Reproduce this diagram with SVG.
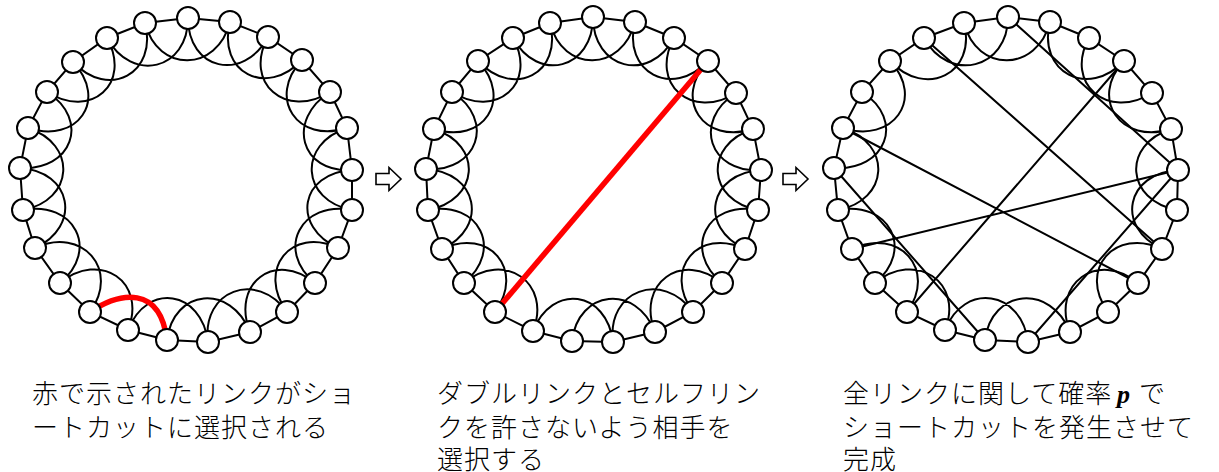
<svg xmlns="http://www.w3.org/2000/svg" width="1219" height="472" viewBox="0 0 1219 472">
<style>
.e{fill:none;stroke:#000;stroke-width:2}
.r{fill:none;stroke:#f00;stroke-width:5.5;stroke-linecap:butt}
.n{fill:#fff;stroke:#000;stroke-width:2}
.a{fill:#fff;stroke:#000;stroke-width:1.6;stroke-linejoin:miter}
.t{font-family:"Noto Sans CJK JP","Liberation Serif",sans-serif;font-size:26px;font-weight:300;letter-spacing:1px;fill:#000}
.p{font-family:"Liberation Serif",serif;font-style:italic;font-weight:bold;letter-spacing:0}
</style>
<defs>
<path id="arrow" class="a" d="M0,-5.5 H13 V-11.5 L25,0 L13,11.5 V5.5 H0 Z"/>
</defs>
<g id="connectors">
<!-- ring 1 -->
<path class="e" d="M188,18 L230,22 L268,37 L302,60 L330,92 L347,128 L352,170 L352,210 L338,248 L315,283 L287,312 L250,332 L208,342 L167,340 L128,330 L90,312 L60,283 L35,248 L23,210 L20,168 L28,128 L47,92 L73,62 L107,38 L145,23 Z"/>
<path class="e" d="M188,18 C188,70 242.9,82.6 268,37
M230,22 C217.1,72.4 266.4,97.9 302,60
M268,37 C242.9,82.6 286.1,119.9 330,92
M302,60 C266.4,97.9 297.5,144.1 347,128
M330,92 C286.1,119.9 300.1,173.3 352,170
M347,128 C297.5,144.1 300.9,200.3 352,210
M352,170 C300.1,173.3 290.9,225.9 338,248
M352,210 C300.9,200.3 274.9,249.9 315,283
M338,248 C290.9,225.9 256.4,269.9 287,312
M315,283 C274.9,249.9 230.9,283.7 250,332
M287,312 C256.4,269.9 201.5,290.4 208,342
M250,332 C230.9,283.7 173.5,288.4 167,340
M208,342 C201.5,290.4 147.1,281.7 128,330
M128,330 C147.1,281.7 100.1,249.9 60,283
M90,312 C120.6,269.9 82.1,225.9 35,248
M60,283 C100.1,249.9 74.1,200.3 23,210
M35,248 C82.1,225.9 71.9,171.3 20,168
M23,210 C74.1,200.3 77.5,144.1 28,128
M20,168 C71.9,171.3 90.9,119.9 47,92
M28,128 C77.5,144.1 108.6,99.9 73,62
M47,92 C90.9,119.9 132.1,83.6 107,38
M73,62 C108.6,99.9 157.9,73.4 145,23
M107,38 C132.1,83.6 188,70 188,18
M145,23 C157.9,73.4 217.1,72.4 230,22"/>
<path class="r" d="M90,312 C120,292 160,285 167,340"/>
<!-- ring 2 -->
<path class="e" d="M593,17 L635,22 L674,38 L708,61 L736,93 L753,129 L761,170 L758,210 L745,249 L722,283 L693,312 L655,332 L613,342 L572,341 L533,331 L495,312 L464,283 L442,249 L428,210 L426,169 L434,129 L452,92 L478,61 L513,38 L550,23 Z"/>
<path class="e" d="M593,17 C593,69 648.9,83.6 674,38
M635,22 C622.1,72.4 672.4,98.9 708,61
M674,38 C648.9,83.6 692.1,120.9 736,93
M708,61 C672.4,98.9 703.5,145.1 753,129
M736,93 C692.1,120.9 709.1,173.3 761,170
M753,129 C703.5,145.1 706.9,200.3 758,210
M761,170 C709.1,173.3 697.9,226.9 745,249
M758,210 C706.9,200.3 681.9,249.9 722,283
M745,249 C697.9,226.9 662.4,269.9 693,312
M722,283 C681.9,249.9 635.9,283.7 655,332
M693,312 C662.4,269.9 606.5,290.4 613,342
M655,332 C635.9,283.7 578.5,289.4 572,341
M613,342 C606.5,290.4 552.1,282.7 533,331
M533,331 C552.1,282.7 504.1,249.9 464,283
M495,312 C525.6,269.9 489.1,226.9 442,249
M464,283 C504.1,249.9 479.1,200.3 428,210
M442,249 C489.1,226.9 477.9,172.3 426,169
M428,210 C479.1,200.3 483.5,145.1 434,129
M426,169 C477.9,172.3 495.9,119.9 452,92
M434,129 C483.5,145.1 513.6,98.9 478,61
M452,92 C495.9,119.9 538.1,83.6 513,38
M478,61 C513.6,98.9 562.9,73.4 550,23
M513,38 C538.1,83.6 593,69 593,17
M550,23 C562.9,73.4 622.1,72.4 635,22"/>
<path class="r" d="M495,312 L708,61"/>
<!-- ring 3 -->
<path class="e" d="M1008,17 L1050,22 L1089,38 L1124,61 L1152,93 L1171,129 L1178,170 L1177,210 L1162,249 L1138,283 L1108,312 L1070,332 L1028,342 L985,340 L945,330 L907,312 L875,283 L852,249 L838,210 L834,168 L843,128 L862,92 L890,61 L924,38 L964,23 Z"/>
<path class="e" d="M1050,22 C1037.1,72.4 1088.4,98.9 1124,61
M1089,38 C1063.9,83.6 1108.1,120.9 1152,93
M1124,61 C1088.4,98.9 1121.5,145.1 1171,129
M1171,129 C1121.5,145.1 1125.9,200.3 1177,210
M1178,170 C1126.1,173.3 1114.9,226.9 1162,249
M1162,249 C1114.9,226.9 1077.4,269.9 1108,312
M1138,283 C1097.9,249.9 1050.9,283.7 1070,332
M1070,332 C1050.9,283.7 991.5,288.4 985,340
M1028,342 C1021.5,290.4 964.1,281.7 945,330
M945,330 C964.1,281.7 915.1,249.9 875,283
M907,312 C937.6,269.9 899.1,226.9 852,249
M875,283 C915.1,249.9 889.1,200.3 838,210
M838,210 C889.1,200.3 892.5,144.1 843,128
M834,168 C885.9,171.3 905.9,119.9 862,92
M843,128 C892.5,144.1 925.6,98.9 890,61
M890,61 C925.6,98.9 976.9,73.4 964,23
M924,38 C949.1,83.6 1008,69 1008,17
M964,23 C976.9,73.4 1037.1,72.4 1050,22"/>
<path class="e" d="M924,38 L1162,249 M1008,17 L1178,170 M1124,61 L907,312 M843,128 L1138,283 M834,168 L985,340 M852,249 L1178,170 M1028,342 L1178,170"/>
</g>
<g id="ring1-nodes">
<g id="r1n0"><circle class="n" cx="188" cy="18" r="11"/></g>
<g id="r1n1"><circle class="n" cx="230" cy="22" r="11"/></g>
<g id="r1n2"><circle class="n" cx="268" cy="37" r="11"/></g>
<g id="r1n3"><circle class="n" cx="302" cy="60" r="11"/></g>
<g id="r1n4"><circle class="n" cx="330" cy="92" r="11"/></g>
<g id="r1n5"><circle class="n" cx="347" cy="128" r="11"/></g>
<g id="r1n6"><circle class="n" cx="352" cy="170" r="11"/></g>
<g id="r1n7"><circle class="n" cx="352" cy="210" r="11"/></g>
<g id="r1n8"><circle class="n" cx="338" cy="248" r="11"/></g>
<g id="r1n9"><circle class="n" cx="315" cy="283" r="11"/></g>
<g id="r1n10"><circle class="n" cx="287" cy="312" r="11"/></g>
<g id="r1n11"><circle class="n" cx="250" cy="332" r="11"/></g>
<g id="r1n12"><circle class="n" cx="208" cy="342" r="11"/></g>
<g id="r1n13"><circle class="n" cx="167" cy="340" r="11"/></g>
<g id="r1n14"><circle class="n" cx="128" cy="330" r="11"/></g>
<g id="r1n15"><circle class="n" cx="90" cy="312" r="11"/></g>
<g id="r1n16"><circle class="n" cx="60" cy="283" r="11"/></g>
<g id="r1n17"><circle class="n" cx="35" cy="248" r="11"/></g>
<g id="r1n18"><circle class="n" cx="23" cy="210" r="11"/></g>
<g id="r1n19"><circle class="n" cx="20" cy="168" r="11"/></g>
<g id="r1n20"><circle class="n" cx="28" cy="128" r="11"/></g>
<g id="r1n21"><circle class="n" cx="47" cy="92" r="11"/></g>
<g id="r1n22"><circle class="n" cx="73" cy="62" r="11"/></g>
<g id="r1n23"><circle class="n" cx="107" cy="38" r="11"/></g>
<g id="r1n24"><circle class="n" cx="145" cy="23" r="11"/></g>
</g>
<g id="ring2-nodes">
<g id="r2n0"><circle class="n" cx="593" cy="17" r="11"/></g>
<g id="r2n1"><circle class="n" cx="635" cy="22" r="11"/></g>
<g id="r2n2"><circle class="n" cx="674" cy="38" r="11"/></g>
<g id="r2n3"><circle class="n" cx="708" cy="61" r="11"/></g>
<g id="r2n4"><circle class="n" cx="736" cy="93" r="11"/></g>
<g id="r2n5"><circle class="n" cx="753" cy="129" r="11"/></g>
<g id="r2n6"><circle class="n" cx="761" cy="170" r="11"/></g>
<g id="r2n7"><circle class="n" cx="758" cy="210" r="11"/></g>
<g id="r2n8"><circle class="n" cx="745" cy="249" r="11"/></g>
<g id="r2n9"><circle class="n" cx="722" cy="283" r="11"/></g>
<g id="r2n10"><circle class="n" cx="693" cy="312" r="11"/></g>
<g id="r2n11"><circle class="n" cx="655" cy="332" r="11"/></g>
<g id="r2n12"><circle class="n" cx="613" cy="342" r="11"/></g>
<g id="r2n13"><circle class="n" cx="572" cy="341" r="11"/></g>
<g id="r2n14"><circle class="n" cx="533" cy="331" r="11"/></g>
<g id="r2n15"><circle class="n" cx="495" cy="312" r="11"/></g>
<g id="r2n16"><circle class="n" cx="464" cy="283" r="11"/></g>
<g id="r2n17"><circle class="n" cx="442" cy="249" r="11"/></g>
<g id="r2n18"><circle class="n" cx="428" cy="210" r="11"/></g>
<g id="r2n19"><circle class="n" cx="426" cy="169" r="11"/></g>
<g id="r2n20"><circle class="n" cx="434" cy="129" r="11"/></g>
<g id="r2n21"><circle class="n" cx="452" cy="92" r="11"/></g>
<g id="r2n22"><circle class="n" cx="478" cy="61" r="11"/></g>
<g id="r2n23"><circle class="n" cx="513" cy="38" r="11"/></g>
<g id="r2n24"><circle class="n" cx="550" cy="23" r="11"/></g>
</g>
<g id="ring3-nodes">
<g id="r3n0"><circle class="n" cx="1008" cy="17" r="11"/></g>
<g id="r3n1"><circle class="n" cx="1050" cy="22" r="11"/></g>
<g id="r3n2"><circle class="n" cx="1089" cy="38" r="11"/></g>
<g id="r3n3"><circle class="n" cx="1124" cy="61" r="11"/></g>
<g id="r3n4"><circle class="n" cx="1152" cy="93" r="11"/></g>
<g id="r3n5"><circle class="n" cx="1171" cy="129" r="11"/></g>
<g id="r3n6"><circle class="n" cx="1178" cy="170" r="11"/></g>
<g id="r3n7"><circle class="n" cx="1177" cy="210" r="11"/></g>
<g id="r3n8"><circle class="n" cx="1162" cy="249" r="11"/></g>
<g id="r3n9"><circle class="n" cx="1138" cy="283" r="11"/></g>
<g id="r3n10"><circle class="n" cx="1108" cy="312" r="11"/></g>
<g id="r3n11"><circle class="n" cx="1070" cy="332" r="11"/></g>
<g id="r3n12"><circle class="n" cx="1028" cy="342" r="11"/></g>
<g id="r3n13"><circle class="n" cx="985" cy="340" r="11"/></g>
<g id="r3n14"><circle class="n" cx="945" cy="330" r="11"/></g>
<g id="r3n15"><circle class="n" cx="907" cy="312" r="11"/></g>
<g id="r3n16"><circle class="n" cx="875" cy="283" r="11"/></g>
<g id="r3n17"><circle class="n" cx="852" cy="249" r="11"/></g>
<g id="r3n18"><circle class="n" cx="838" cy="210" r="11"/></g>
<g id="r3n19"><circle class="n" cx="834" cy="168" r="11"/></g>
<g id="r3n20"><circle class="n" cx="843" cy="128" r="11"/></g>
<g id="r3n21"><circle class="n" cx="862" cy="92" r="11"/></g>
<g id="r3n22"><circle class="n" cx="890" cy="61" r="11"/></g>
<g id="r3n23"><circle class="n" cx="924" cy="38" r="11"/></g>
<g id="r3n24"><circle class="n" cx="964" cy="23" r="11"/></g>
</g>
<g id="arrows">
<use href="#arrow" x="376" y="179"/>
<use href="#arrow" x="783" y="179"/>
</g>
<g id="captions">
<text class="t" x="32" y="403">赤で示されたリンクがショ</text>
<text class="t" x="32" y="437">ートカットに選択される</text>
<text class="t" x="437" y="403">ダブルリンクとセルフリン</text>
<text class="t" x="437" y="437">クを許さないよう相手を</text>
<text class="t" x="437" y="469">選択する</text>
<text class="t" x="843" y="403">全リンクに関して確率<tspan class="p" x="1117">p</tspan><tspan x="1139">で</tspan></text>
<text class="t" x="843" y="437">ショートカットを発生させて</text>
<text class="t" x="843" y="469">完成</text>
</g>
</svg>
